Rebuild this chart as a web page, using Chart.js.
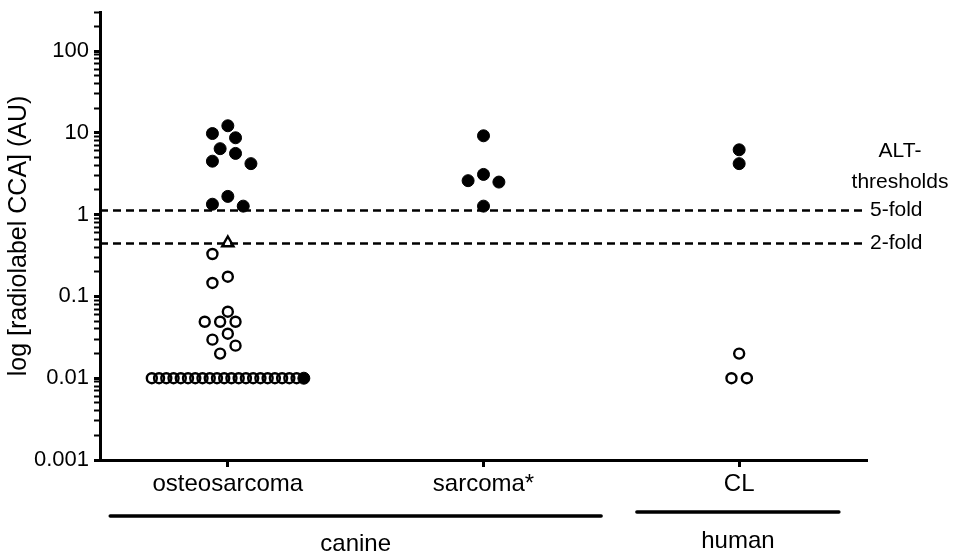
<!DOCTYPE html>
<html><head><meta charset="utf-8">
<script src="https://cdn.jsdelivr.net/npm/chart.js@4/dist/chart.umd.min.js"></script>
<style>html,body{margin:0;padding:0;background:#fff}#wrap{width:955px;height:554px;position:relative}</style>
</head><body><div id="wrap"><canvas id="c" width="955" height="554"></canvas></div>
<script>
// ---- data ----
const categories = ['osteosarcoma', 'sarcoma*', 'CL'];
const species = ['canine', 'canine', 'human'];
// ALT-positive (filled circles)
const altPositive = [
  [12.2, 9.8, 8.7, 6.4, 5.6, 4.5, 4.2, 1.67, 1.34, 1.27, 0.01],
  [9.2, 3.1, 2.6, 2.5, 1.27],
  [6.2, 4.2]
];
// ALT-negative (open circles)
const altNegative = [
  [0.33, 0.174, 0.146, 0.065, 0.049, 0.049, 0.049, 0.035, 0.0296, 0.025, 0.02,
   0.01, 0.01, 0.01, 0.01, 0.01, 0.01, 0.01, 0.01, 0.01, 0.01, 0.01, 0.01, 0.01, 0.01, 0.01, 0.01, 0.01, 0.01, 0.01, 0.01, 0.01],
  [],
  [0.02, 0.01, 0.01]
];
// borderline sample (open triangle)
const altBorderline = [[0.45], [], []];
const thresholdValues = [1.13, 0.45];
const thresholdLabels = ['5-fold', '2-fold'];
const thresholdTitle = ['ALT-', 'thresholds'];
const yTickValues = [0.001, 0.01, 0.1, 1, 10, 100];
const yTickLabels = ['0.001', '0.01', '0.1', '1', '10', '100'];
const yTitle = 'log [radiolabel CCA] (AU)';

// ---- styles ----
const FONT = "'Liberation Sans', Arial, Helvetica, sans-serif";
const bracketPad = { canine: [0.46, 0.46], human: [0.4, 0.39] };
const bracketY = { canine: 56, human: 52 };
const bracketTextY = { canine: 84, human: 81 };

function toPoints(arr) {
  const out = [];
  arr.forEach((vals, ci) => vals.forEach(v => out.push({ x: ci, y: v, cat: ci })));
  return out;
}

const minorTicks = [];
for (let e = -3; e <= 2; e++) {
  for (let k = 1; k <= 9; k++) {
    const v = Number(k + 'e' + e);
    if (v <= 300) minorTicks.push(v);
  }
}

const extras = {
  id: 'extras',
  beforeDatasetsDraw(chart) {
    const { ctx, chartArea } = chart;
    const y = chart.scales.y;
    ctx.save();
    ctx.strokeStyle = '#000';
    ctx.lineWidth = 2.5;
    ctx.setLineDash([8, 5]);
    thresholdValues.forEach(v => {
      const py = Math.round(y.getPixelForValue(v)) + 0.5;
      ctx.beginPath();
      ctx.moveTo(chartArea.left, py);
      ctx.lineTo(chartArea.right - 4, py);
      ctx.stroke();
    });
    ctx.restore();
  },
  afterDraw(chart) {
    const { ctx, chartArea } = chart;
    const x = chart.scales.x, y = chart.scales.y;
    ctx.save();
    ctx.fillStyle = '#000';
    ctx.font = '21px ' + FONT;
    ctx.textBaseline = 'middle';
    ctx.textAlign = 'left';
    thresholdValues.forEach((v, i) => {
      ctx.fillText(thresholdLabels[i], chartArea.right + 3, y.getPixelForValue(v));
    });
    ctx.textAlign = 'center';
    const cx = chartArea.right + 33;
    const t5 = y.getPixelForValue(thresholdValues[0]);
    ctx.fillText(thresholdTitle[0], cx, t5 - 59);
    ctx.fillText(thresholdTitle[1], cx, t5 - 28);
    // species brackets
    const groups = [];
    species.forEach((s, i) => {
      const g = groups.find(q => q.name === s);
      if (g) g.last = i; else groups.push({ name: s, first: i, last: i });
    });
    groups.forEach(g => {
      const pad = bracketPad[g.name] || [0.45, 0.45];
      const x0 = x.getPixelForValue(g.first - pad[0]);
      const x1 = x.getPixelForValue(g.last + pad[1]);
      const ly = chartArea.bottom + bracketY[g.name];
      ctx.lineWidth = 3.5;
      ctx.lineCap = 'round';
      ctx.strokeStyle = '#000';
      ctx.beginPath(); ctx.moveTo(x0, ly); ctx.lineTo(x1, ly); ctx.stroke();
      ctx.font = '24px ' + FONT;
      ctx.fillText(g.name, (x0 + x1) / 2, chartArea.bottom + bracketTextY[g.name]);
    });
    ctx.restore();
  }
};

const chart = new Chart(document.getElementById('c'), {
  type: 'scatter',
  data: {
    datasets: [
      { label: 'ALT positive', data: toPoints(altPositive), pointStyle: 'circle', pointRadius: 6, pointHoverRadius: 6,
        backgroundColor: '#000', borderColor: '#000', borderWidth: 1 },
      { label: 'ALT negative', data: toPoints(altNegative), pointStyle: 'circle', pointRadius: 5, pointHoverRadius: 5,
        backgroundColor: 'rgba(0,0,0,0)', borderColor: '#000', borderWidth: 2.4 },
      { label: 'borderline', data: toPoints(altBorderline), pointStyle: 'triangle', pointRadius: 6.5, pointHoverRadius: 6.5,
        backgroundColor: 'rgba(0,0,0,0)', borderColor: '#000', borderWidth: 2.4 }
    ]
  },
  options: {
    responsive: false, animation: false, devicePixelRatio: 1,
    events: [],
    layout: { padding: { top: 12, right: 88, left: 0, bottom: 0 } },
    plugins: { legend: { display: false }, tooltip: { enabled: false } },
    scales: {
      x: {
        type: 'linear', min: -0.5, max: 2.5,
        afterBuildTicks: s => { s.ticks = categories.map((c, i) => ({ value: i })); },
        afterFit: s => { s.height = 94; s.paddingLeft = 0; s.paddingRight = 0; },
        ticks: { callback: v => categories[v], color: '#000', font: { family: FONT, size: 24 }, padding: 3, autoSkip: false, maxRotation: 0 },
        grid: { display: true, drawOnChartArea: false, drawTicks: true, tickLength: 7, tickWidth: 3, tickColor: '#000' },
        border: { display: true, color: '#000', width: 3 }
      },
      y: {
        type: 'logarithmic', min: 0.001, max: 300,
        afterBuildTicks: s => { s.ticks = minorTicks.map(v => ({ value: v, major: yTickValues.includes(v) })); },
        afterFit: s => { s.width = 100; s.paddingTop = 0; s.paddingBottom = 0; },
        ticks: {
          callback: v => { const i = yTickValues.indexOf(v); return i >= 0 ? yTickLabels[i] : ''; },
          color: '#000', font: { family: FONT, size: 22 }, padding: 5, autoSkip: false
        },
        grid: {
          display: true, drawOnChartArea: false, drawTicks: true, tickLength: 6, tickColor: '#000',
          tickWidth: c => (c.tick && yTickValues.includes(c.tick.value)) ? 3 : 2
        },
        border: { display: true, color: '#000', width: 3 },
        title: { display: true, text: yTitle, color: '#000', font: { family: FONT, size: 25 }, padding: { top: 4, bottom: 0 } }
      }
    }
  },
  plugins: [extras]
});

// beeswarm placement: each value group is laid out as a row and shifted sideways
// until it clears the points already placed (pixel geometry from the chart scales)
function layoutSwarm(chart) {
  const xs = chart.scales.x, ys = chart.scales.y;
  const dSingle = 13.5, dRow = 12, step = 7.7, maxHalf = 76;
  const pxPerUnit = xs.getPixelForValue(1) - xs.getPixelForValue(0);
  categories.forEach((c, ci) => {
    const groups = new Map();
    chart.data.datasets.slice().reverse().forEach(ds => ds.data.forEach(p => {
      if (p.cat !== ci) return;
      if (!groups.has(p.y)) groups.set(p.y, []);
      groups.get(p.y).push({ p, py: ys.getPixelForValue(p.y) });
    }));
    const placed = [];
    [...groups.keys()].sort((a, b) => b - a).forEach(v => {
      const g = groups.get(v);
      const n = g.length;
      const d = n > 1 ? dRow : dSingle;
      const sp = n > 1 ? Math.min(2 * step, 2 * maxHalf / (n - 1)) : 0;
      const base = g.map((q, k) => (k - (n - 1) / 2) * sp);
      const half = (n - 1) / 2 * sp;
      let best = 0, bestOv = Infinity;
      outer: for (let k = 0; k <= 12; k++) {
        const cands = k === 0 ? [0] : [-k * step, k * step];
        for (const s of cands) {
          if (Math.abs(s) + half > maxHalf + 0.01) continue;
          let ov = 0;
          g.forEach((q, m) => placed.forEach(o => {
            const dist = Math.hypot(o.dx - (base[m] + s), o.py - q.py);
            if (dist < d) ov += d - dist;
          }));
          if (ov < bestOv) { bestOv = ov; best = s; }
          if (ov === 0) break outer;
        }
      }
      g.forEach((q, m) => { q.dx = base[m] + best; placed.push(q); });
    });
    placed.forEach(q => { q.p.x = ci + q.dx / pxPerUnit; });
  });
}
layoutSwarm(chart);
chart.update('none');
</script>
</body></html>
